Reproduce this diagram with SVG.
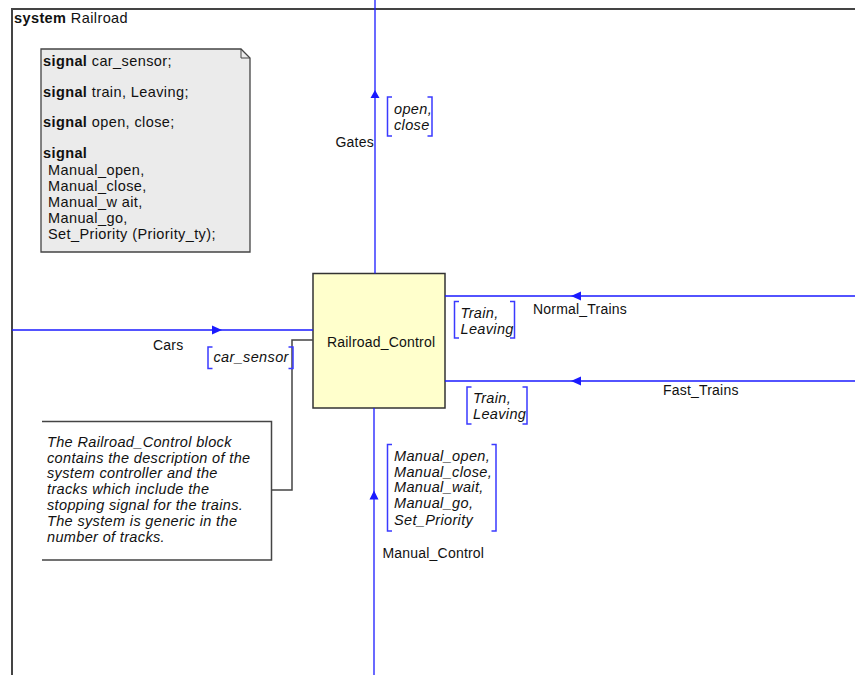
<svg xmlns="http://www.w3.org/2000/svg" width="855" height="675" viewBox="0 0 855 675">
  <defs>
    <style>
      text { font-family: "Liberation Sans", Arial, sans-serif; font-size: 14px; fill: #111; letter-spacing: 0.2px; }
      .d { font-size: 14.5px; letter-spacing: 0.4px; }
      .b { font-weight: bold; }
      .i { font-style: italic; font-size: 14.5px; letter-spacing: 0.35px; }
      .frame { fill: none; stroke: #444; stroke-width: 2; }
      .chan { fill: none; stroke: #1a1aff; stroke-width: 1.3; }
      .arrow { fill: #1a1aff; stroke: none; }
      .brk { fill: none; stroke: #3a3aff; stroke-width: 1.5; }
      .link { fill: none; stroke: #444; stroke-width: 1.5; }
    </style>
  </defs>
  <rect width="855" height="675" fill="#fff"/>

  <!-- system frame (open to the right and bottom) -->
  <g id="system-frame">
    <path class="frame" d="M12,675 V9 H855"/>
    <text class="d" x="14" y="22.5"><tspan class="b">system</tspan> Railroad</text>
  </g>

  <!-- signal declarations -->
  <g id="signal-declarations">
    <path d="M41,49 H241 L250,58 V252 H41 Z" fill="#ebebeb" stroke="#444" stroke-width="1.3"/>
    <path d="M241,49 V58 H250" fill="none" stroke="#444" stroke-width="1"/>
    <text class="d" x="43" y="66"><tspan class="b">signal</tspan> car_sensor;</text>
    <text class="d" x="43" y="97"><tspan class="b">signal</tspan> train, Leaving;</text>
    <text class="d" x="43" y="127"><tspan class="b">signal</tspan> open, close;</text>
    <text class="d b" x="43" y="158">signal</text>
    <text class="d" x="48" y="175">Manual_open,</text>
    <text class="d" x="48" y="191">Manual_close,</text>
    <text class="d" x="48" y="207">Manual_w ait,</text>
    <text class="d" x="48" y="223">Manual_go,</text>
    <text class="d" x="48" y="239">Set_Priority (Priority_ty);</text>
  </g>

  <!-- block -->
  <g id="Railroad_Control">
    <rect x="313" y="273.5" width="132" height="134.5" fill="#ffffcc" stroke="#333" stroke-width="1.5"/>
    <text x="327" y="347">Railroad_Control</text>
  </g>

  <!-- comment -->
  <g id="comment">
    <path class="link" d="M42,421.5 H271.5 V560 H42"/>
    <text class="i" x="47" y="446.5">The Railroad_Control block</text>
    <text class="i" x="47" y="462.5">contains the description of the</text>
    <text class="i" x="47" y="478">system controller and the</text>
    <text class="i" x="47" y="494">tracks which include the</text>
    <text class="i" x="47" y="510">stopping signal for the trains.</text>
    <text class="i" x="47" y="526">The system is generic in the</text>
    <text class="i" x="47" y="541.5">number of tracks.</text>
  </g>

  <!-- channels -->
  <g id="connectors">
    <!-- comment attachment -->
    <path class="link" d="M313,340 H292 V490 H272"/>

    <!-- Gates -->
    <g id="Gates">
      <line class="chan" x1="375" y1="0" x2="375" y2="273.5"/>
      <polygon class="arrow" points="375,90 370.5,98 379.5,98"/>
      <text x="335.5" y="146.5">Gates</text>
      <path class="brk" d="M392,97 H387.5 V136 H392 M427.5,97 H432 V136 H427.5"/>
      <text class="i" x="394" y="114">open,</text>
      <text class="i" x="394" y="130">close</text>
    </g>

    <!-- Cars -->
    <g id="Cars">
      <line class="chan" x1="12" y1="330" x2="313" y2="330"/>
      <polygon class="arrow" points="222,330 212,325.5 212,334.5"/>
      <text x="153" y="350">Cars</text>
      <path class="brk" d="M212.5,347 H208 V368.5 H212.5 M288.5,347 H293 V368.5 H288.5"/>
      <text class="i" x="213.5" y="362">car_sensor</text>
    </g>

    <!-- Normal_Trains -->
    <g id="Normal_Trains">
      <line class="chan" x1="445" y1="296" x2="855" y2="296"/>
      <polygon class="arrow" points="571,296 581,291.5 581,300.5"/>
      <text x="533" y="314">Normal_Trains</text>
      <path class="brk" d="M459,301.5 H454.5 V338 H459 M510,301.5 H514.5 V338 H510"/>
      <text class="i" x="460.5" y="317.5">Train,</text>
      <text class="i" x="460.5" y="333.5">Leaving</text>
    </g>

    <!-- Fast_Trains -->
    <g id="Fast_Trains">
      <line class="chan" x1="445" y1="381" x2="855" y2="381"/>
      <polygon class="arrow" points="571,381 581,376.5 581,385.5"/>
      <text x="663" y="394.5">Fast_Trains</text>
      <path class="brk" d="M471.5,387 H467 V424 H471.5 M522.5,387 H527 V424 H522.5"/>
      <text class="i" x="473" y="403">Train,</text>
      <text class="i" x="473" y="418.5">Leaving</text>
    </g>

    <!-- Manual_Control -->
    <g id="Manual_Control">
      <line class="chan" x1="374" y1="408" x2="374" y2="675"/>
      <polygon class="arrow" points="374,490.5 369.5,499.5 378.5,499.5"/>
      <path class="brk" d="M392,444.5 H387.5 V531 H392 M491.5,444.5 H496 V531 H491.5"/>
      <text class="i" x="394" y="460.5">Manual_open,</text>
      <text class="i" x="394" y="476.5">Manual_close,</text>
      <text class="i" x="394" y="492">Manual_wait,</text>
      <text class="i" x="394" y="508">Manual_go,</text>
      <text class="i" x="394" y="524.5">Set_Priority</text>
      <text x="382.5" y="557.5">Manual_Control</text>
    </g>
  </g>
</svg>
